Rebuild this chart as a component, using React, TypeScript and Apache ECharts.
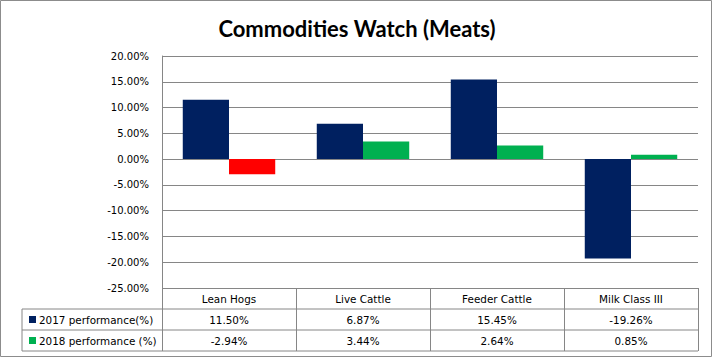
import React, { useEffect, useRef } from "react";
import * as echarts from "echarts";

const titleText = "Commodities Watch (Meats)";
const categories = ["Lean Hogs", "Live Cattle", "Feeder Cattle", "Milk Class III"];
const seriesNames = ["2017 performance(%)", "2018 performance (%)"];
const values2017 = [11.5, 6.87, 15.45, -19.26];
const values2018 = [-2.94, 3.44, 2.64, 0.85];
const yMin = -25;
const yMax = 20;
const yStep = 5;

const NAVY = "#002060";
const GREEN = "#00B050";
const RED = "#FF0000";
const GRID = "#868686";
const FONT = "DejaVu Sans";

const fmt = (v: number) => `${v.toFixed(2)}%`;

export default function App() {
  const ref = useRef<HTMLDivElement>(null);
  useEffect(() => {
    if (!ref.current) return;
    const chart = echarts.init(ref.current, null, { renderer: "svg" });
    const gl = 162, gr = 698, gt = 56, gb = 288;
    const rowH = 21;
    const tableLeft = 22;
    const r1 = gb + rowH; // 309
    const r2 = r1 + rowH; // 330
    const r3 = r2 + rowH; // 351
    const labelStyle = { fontSize: 10, color: "#000", fontFamily: FONT };
    const tableStyle = { fontSize: 10.4, color: "#000", fontFamily: FONT };
    const rowAxis = (data: string[], offset: number) => ({
      type: "category",
      data,
      position: "bottom",
      offset,
      axisLine: { show: false },
      axisTick: { show: false },
      axisLabel: { ...tableStyle, margin: 6, interval: 0 },
      splitLine: { show: false },
    });
    chart.setOption({
      animation: false,
      backgroundColor: "#fff",
      title: {
        text: titleText,
        left: "center",
        top: 12,
        textStyle: { fontFamily: "Lato", fontWeight: "bold", fontSize: 22, color: "#000" },
      },
      grid: { left: gl, right: 714 - gr, top: gt, bottom: 358 - gb, containLabel: false },
      yAxis: {
        type: "value",
        min: yMin,
        max: yMax,
        interval: yStep,
        axisLine: { show: true, lineStyle: { color: GRID } },
        axisTick: { show: false },
        splitLine: { show: true, lineStyle: { color: GRID } },
        axisLabel: { ...labelStyle, margin: 13, formatter: (v: number) => fmt(v) },
      },
      xAxis: [
        {
          type: "category",
          data: categories,
          position: "bottom",
          axisLine: { show: false, onZero: false },
          axisTick: { show: true, length: r3 - gb, lineStyle: { color: GRID } },
          axisLabel: { ...tableStyle, margin: 6, interval: 0 },
          splitLine: { show: false },
        },
        rowAxis(values2017.map(fmt), rowH),
        rowAxis(values2018.map(fmt), rowH * 2),
      ],
      series: [
        {
          name: seriesNames[0],
          type: "bar",
          data: values2017,
          itemStyle: { color: NAVY },
          barGap: "0%",
          barCategoryGap: "31%",
        },
        {
          name: seriesNames[1],
          type: "bar",
          data: values2018,
          itemStyle: { color: (p: any) => (p.value < 0 ? RED : GREEN) },
          barGap: "0%",
          barCategoryGap: "31%",
        },
      ],
      graphic: [
        {
          type: "rect",
          shape: { x: 0.5, y: 0.5, width: 711, height: 356 },
          style: { fill: "none", stroke: "#8c8c8c", lineWidth: 1 },
          silent: true,
        },
        {
          type: "polyline",
          shape: { points: [[gr, r1], [tableLeft, r1], [tableLeft, r3], [gr, r3]] },
          style: { fill: "none", stroke: GRID, lineWidth: 1 },
          silent: true,
        },
        {
          type: "line",
          shape: { x1: tableLeft, y1: r2, x2: gr, y2: r2 },
          style: { stroke: GRID, lineWidth: 1 },
          silent: true,
        },
        ...seriesNames.flatMap((name, i) => {
          const cy = r1 + rowH * i + rowH / 2;
          return [
            {
              type: "rect",
              shape: { x: 29, y: cy - 3.5, width: 7, height: 7 },
              style: { fill: i === 0 ? NAVY : GREEN },
              silent: true,
            },
            {
              type: "text",
              x: 39,
              y: cy,
              style: { text: name, fontSize: tableStyle.fontSize, fontFamily: FONT, fill: "#000", verticalAlign: "middle" },
              silent: true,
            },
          ];
        }),
      ],
    });
    return () => chart.dispose();
  }, []);
  return <div ref={ref} style={{ position: "absolute", left: 0, top: 0, width: 714, height: 358 }} />;
}
